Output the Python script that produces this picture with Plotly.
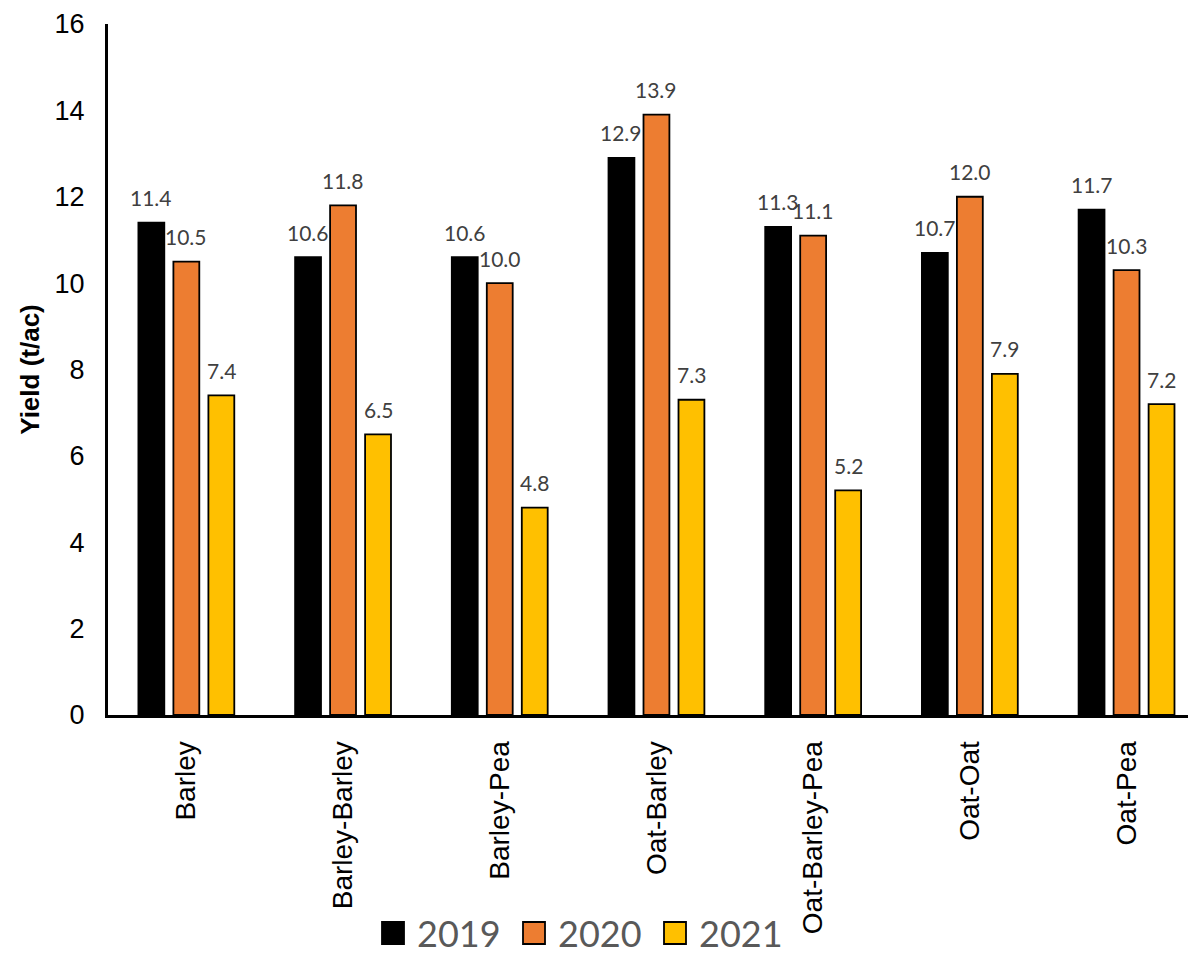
import plotly.graph_objects as go

categories = ["Barley", "Barley-Barley", "Barley-Pea", "Oat-Barley", "Oat-Barley-Pea", "Oat-Oat", "Oat-Pea"]
years = ["2019", "2020", "2021"]
y2019 = [11.4, 10.6, 10.6, 12.9, 11.3, 10.7, 11.7]
y2020 = [10.5, 11.8, 10.0, 13.9, 11.1, 12.0, 10.3]
y2021 = [7.4, 6.5, 4.8, 7.3, 5.2, 7.9, 7.2]
colors = ["#000000", "#ED7D31", "#FFC000"]
y_ticks = [0, 2, 4, 6, 8, 10, 12, 14, 16]

series = [y2019, y2020, y2021]

# page body has an 8px margin; compensate so the plot lands where the reference has it
OFF = 8
W, H = 1196 - OFF, 953 - OFF
L, T = 108 - OFF, 24 - OFF
PW = 1196 - 108
PH = 715 - 24
R = W - L - PW
B = H - T - PH
cat_px = 156.7
bargap = 0.33
slot_px = cat_px * (1 - bargap) / 3

fig = go.Figure()
for i, (name, vals, col) in enumerate(zip(years, series, colors)):
    fig.add_trace(go.Bar(
        x=categories, y=vals, name=name,
        marker=dict(color=col, line=dict(color="#000000", width=1.8)),
        showlegend=False,
    ))
    for c, v in zip(categories, vals):
        fig.add_annotation(
            x=c, y=v, xref="x", yref="y", text=f"{v:.1f}",
            showarrow=False, xshift=(i - 1) * slot_px, yshift=25,
            yanchor="middle", xanchor="center",
            font=dict(family="Lato, Open Sans, sans-serif", size=21, color="#404040"),
        )

# manual legend (large square swatches), positions in window pixels
def px_to_paper_x(px):
    return (px - 108) / PW

def px_to_paper_y(py):
    return (715 - py) / PH

leg_x0 = 382
leg_step = 141
sq = 22
leg_cy = 933
for i, (name, col) in enumerate(zip(years, colors)):
    x0 = leg_x0 + i * leg_step
    fig.add_shape(
        type="rect", xref="paper", yref="paper",
        x0=px_to_paper_x(x0), x1=px_to_paper_x(x0 + sq),
        y0=px_to_paper_y(leg_cy + sq / 2), y1=px_to_paper_y(leg_cy - sq / 2),
        fillcolor=col, line=dict(color="#000000", width=1.8),
    )
    fig.add_annotation(
        x=px_to_paper_x(x0 + sq + 12), y=px_to_paper_y(leg_cy),
        xref="paper", yref="paper", text=name, showarrow=False,
        xanchor="left", yanchor="middle", borderpad=0,
        font=dict(family="Lato, Open Sans, sans-serif", size=36, color="#595959"),
    )

fig.update_layout(
    width=W, height=H,
    margin=dict(l=L, r=R, t=T, b=B, pad=0),
    paper_bgcolor="white", plot_bgcolor="white",
    barmode="group", bargap=bargap, bargroupgap=0.26,
    showlegend=False,
    font=dict(family="Liberation Sans, Arial, sans-serif", color="#000000"),
)
fig.update_xaxes(
    range=[-0.5, -0.5 + PW / cat_px],
    showline=True, linecolor="#000000", linewidth=3,
    showgrid=False, zeroline=False, ticks="",
    tickangle=-90, tickfont=dict(size=28, color="#000000", family="Liberation Sans, Arial, sans-serif"),
    ticklabelstandoff=12,
)
fig.update_yaxes(
    range=[0, 16], tickvals=y_ticks,
    showline=True, linecolor="#000000", linewidth=3,
    showgrid=False, zeroline=False, ticks="",
    tickfont=dict(size=27, color="#000000", family="Liberation Sans, Arial, sans-serif"),
    ticklabelstandoff=15,
    title=dict(text="<b>Yield (t/ac)</b>", font=dict(size=26, color="#000000", family="Liberation Sans, Arial, sans-serif"), standoff=8),
)

fig.write_html("out.html")
